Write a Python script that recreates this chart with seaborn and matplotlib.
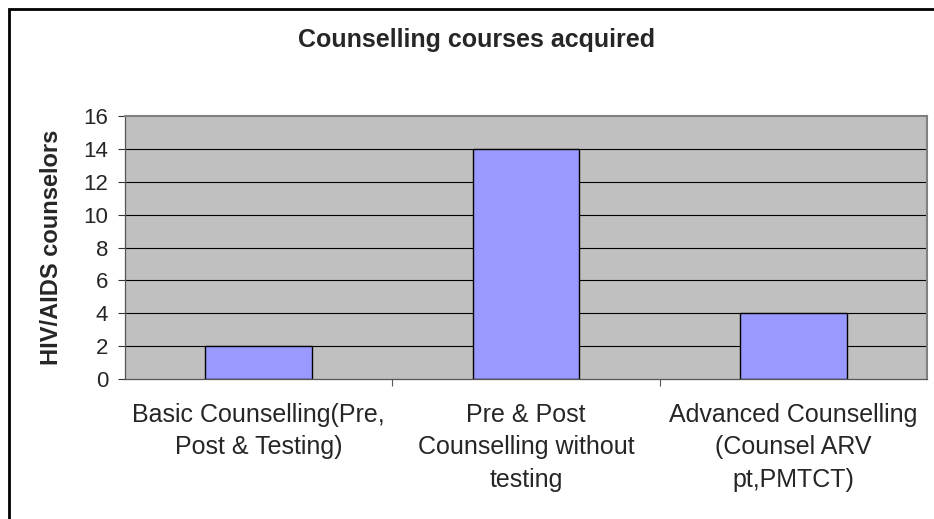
import matplotlib
matplotlib.use("Agg")
import matplotlib.pyplot as plt
import seaborn as sns
import pandas as pd
from matplotlib.patches import Rectangle

categories = ["Basic Counselling(Pre,\nPost & Testing)",
              "Pre & Post\nCounselling without\ntesting",
              "Advanced Counselling\n(Counsel ARV\npt,PMTCT)"]
values = [2, 14, 4]
yticks = [0, 2, 4, 6, 8, 10, 12, 14, 16]

sns.set_theme(style="white")
plt.rcParams['font.family'] = ["Liberation Sans", 'DejaVu Sans']

df = pd.DataFrame({"cat": categories, "val": values})

fig = plt.figure(figsize=(9.34, 5.19), dpi=100)
ax = fig.add_axes([125/934, 1-379/519, (927-125)/934, (379-116)/519])
ax.set_facecolor("#C0C0C0")
for y in yticks[1:-1]:
    ax.axhline(y, color="black", lw=0.8, zorder=0)
sns.barplot(data=df, x="cat", y="val", color="#9999FF", edgecolor="black",
            linewidth=1.0, width=0.40, saturation=1, ax=ax, zorder=2)
ax.set_ylim(0, 16)
ax.set_xlim(-0.5, 2.5)
ax.set_yticks(yticks)
ax.set_xticks([0.5, 1.5], minor=True)
ax.tick_params(axis="y", labelsize=16, length=5, pad=7, direction="out", left=True, width=0.8, color="#333333")
ax.tick_params(axis="x", which="minor", length=5, direction="out", bottom=True, width=0.8, color="#555555")
ax.tick_params(axis="x", which="major", length=0, labelsize=18, pad=17)
for lbl in ax.get_xticklabels():
    lbl.set_linespacing(1.45)
for s in ["top", "right"]:
    ax.spines[s].set_color("#808080")
    ax.spines[s].set_linewidth(1.5)
ax.spines["left"].set_color("#555555")
ax.spines["bottom"].set_color("#555555")
ax.spines["left"].set_linewidth(0.9)
ax.spines["bottom"].set_linewidth(0.9)
ax.set_xlabel("")
ax.set_ylabel("HIV/AIDS counselors", fontsize=17, fontweight="bold", labelpad=15)
fig.text(477/934, 1-40/519, "Counselling courses acquired", ha="center", va="center",
         fontsize=18, fontweight="bold")
fig.patches.append(Rectangle((8.5/934, -0.1), 1.0, 1-9/519+0.1, transform=fig.transFigure,
                             fill=False, edgecolor="black", linewidth=2.0))
fig.savefig("out.png", dpi=100)
